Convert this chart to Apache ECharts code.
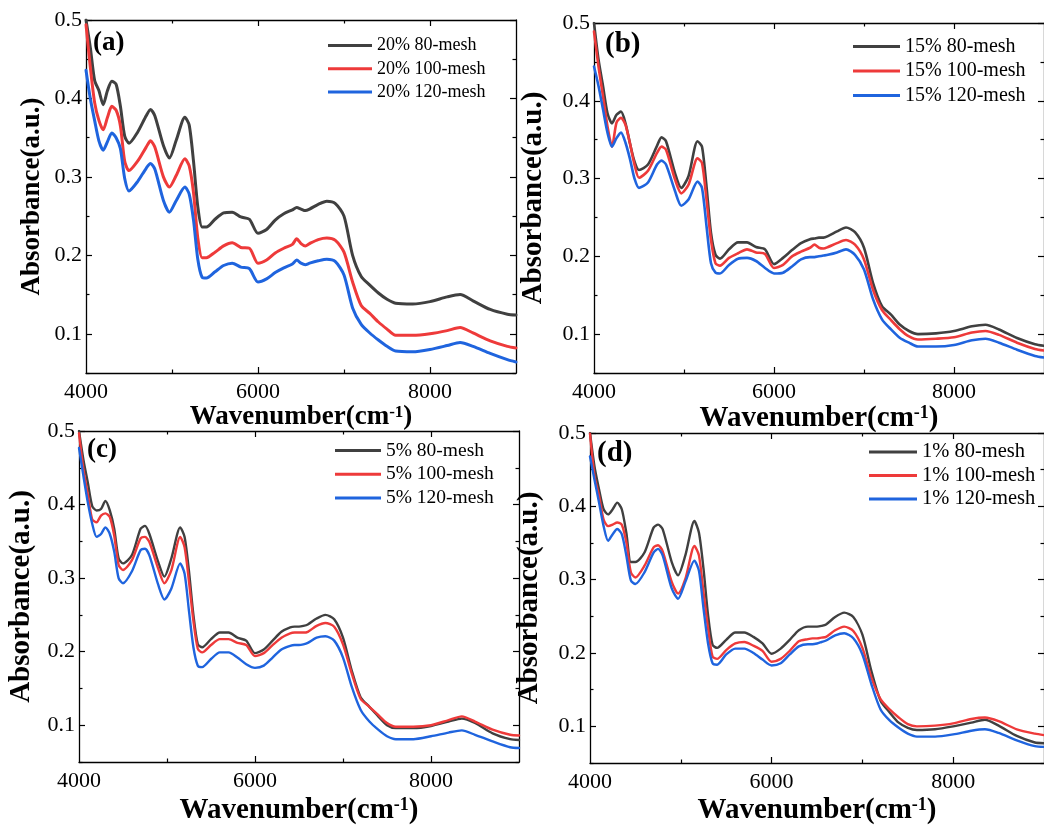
<!DOCTYPE html>
<html>
<head>
<meta charset="utf-8">
<script src="https://cdn.jsdelivr.net/npm/echarts@6/dist/echarts.min.js"></script>
<style>
html,body{margin:0;padding:0;background:#ffffff;}
#chart{width:1044px;height:826px;}
</style>
</head>
<body>
<div id="chart"></div>
<script>
// ---------------- DATA ----------------
const wavenumbers = [4000,4050,4100,4150,4200,4250,4300,4350,4400,4450,4500,4600,4700,4750,4800,4900,4970,5050,5150,5200,5250,5300,5350,5400,5500,5600,5700,5800,5900,6000,6100,6200,6300,6400,6450,6500,6550,6600,6700,6800,6900,7000,7100,7200,7300,7400,7500,7600,7800,8000,8200,8350,8500,8700,8900,9000];

// (a) 20%
const a80  = [0.500,0.465,0.423,0.410,0.392,0.410,0.422,0.418,0.390,0.352,0.343,0.357,0.378,0.386,0.378,0.340,0.324,0.347,0.376,0.366,0.320,0.262,0.236,0.236,0.246,0.254,0.255,0.249,0.246,0.228,0.233,0.245,0.253,0.258,0.261,0.259,0.257,0.259,0.265,0.269,0.266,0.250,0.200,0.173,0.162,0.152,0.144,0.139,0.138,0.141,0.147,0.150,0.142,0.131,0.125,0.124];
const a100 = [0.494,0.440,0.395,0.372,0.360,0.376,0.390,0.385,0.365,0.320,0.308,0.320,0.338,0.346,0.338,0.300,0.287,0.302,0.323,0.314,0.280,0.222,0.197,0.197,0.204,0.212,0.216,0.210,0.209,0.190,0.194,0.203,0.209,0.214,0.221,0.215,0.212,0.215,0.220,0.222,0.219,0.204,0.166,0.136,0.126,0.115,0.106,0.098,0.098,0.100,0.104,0.108,0.101,0.091,0.084,0.082];
const a120 = [0.436,0.400,0.372,0.346,0.334,0.345,0.356,0.350,0.336,0.298,0.282,0.294,0.311,0.317,0.310,0.270,0.255,0.270,0.287,0.278,0.245,0.195,0.172,0.171,0.179,0.187,0.190,0.185,0.183,0.166,0.170,0.178,0.184,0.189,0.194,0.190,0.188,0.190,0.193,0.195,0.192,0.175,0.133,0.112,0.101,0.092,0.084,0.078,0.077,0.080,0.085,0.089,0.084,0.075,0.067,0.064];

// (b) 15%
const b80  = [0.500,0.453,0.419,0.384,0.371,0.382,0.386,0.371,0.345,0.322,0.311,0.318,0.342,0.353,0.348,0.307,0.288,0.303,0.348,0.341,0.290,0.230,0.202,0.197,0.209,0.218,0.218,0.212,0.209,0.190,0.198,0.208,0.217,0.222,0.223,0.224,0.224,0.226,0.232,0.237,0.231,0.211,0.166,0.136,0.125,0.112,0.104,0.100,0.101,0.104,0.110,0.112,0.106,0.095,0.087,0.085];
const b100 = [0.489,0.444,0.406,0.367,0.341,0.372,0.378,0.369,0.345,0.318,0.301,0.310,0.333,0.341,0.337,0.299,0.281,0.292,0.326,0.320,0.273,0.221,0.191,0.188,0.198,0.204,0.209,0.205,0.203,0.185,0.189,0.200,0.206,0.211,0.215,0.211,0.210,0.212,0.217,0.221,0.215,0.196,0.157,0.131,0.118,0.106,0.097,0.093,0.094,0.096,0.102,0.104,0.099,0.089,0.081,0.079];
const b120 = [0.444,0.419,0.389,0.359,0.341,0.352,0.359,0.346,0.325,0.300,0.288,0.295,0.318,0.323,0.318,0.284,0.265,0.273,0.296,0.288,0.239,0.191,0.179,0.178,0.189,0.197,0.198,0.194,0.185,0.178,0.179,0.187,0.196,0.199,0.199,0.200,0.201,0.202,0.205,0.209,0.202,0.183,0.145,0.119,0.106,0.095,0.089,0.084,0.084,0.086,0.092,0.094,0.089,0.080,0.072,0.070];

// (c) 5%
const c80  = [0.500,0.461,0.430,0.398,0.392,0.394,0.405,0.392,0.367,0.327,0.320,0.331,0.367,0.371,0.360,0.322,0.302,0.327,0.369,0.356,0.309,0.250,0.210,0.206,0.217,0.226,0.226,0.219,0.215,0.198,0.203,0.215,0.227,0.233,0.234,0.234,0.235,0.237,0.245,0.250,0.244,0.219,0.174,0.138,0.125,0.112,0.100,0.096,0.096,0.099,0.105,0.109,0.103,0.089,0.081,0.080];
const c100 = [0.497,0.448,0.414,0.380,0.376,0.385,0.388,0.383,0.358,0.318,0.311,0.324,0.354,0.356,0.349,0.313,0.293,0.311,0.356,0.342,0.295,0.242,0.204,0.199,0.209,0.217,0.217,0.212,0.209,0.194,0.198,0.209,0.219,0.225,0.226,0.226,0.226,0.227,0.235,0.239,0.234,0.210,0.170,0.136,0.125,0.114,0.103,0.098,0.098,0.100,0.107,0.112,0.105,0.094,0.087,0.086];
const c120 = [0.477,0.439,0.403,0.374,0.356,0.360,0.369,0.360,0.336,0.300,0.293,0.309,0.338,0.340,0.331,0.291,0.271,0.286,0.320,0.306,0.255,0.206,0.181,0.179,0.190,0.199,0.199,0.192,0.183,0.178,0.181,0.192,0.203,0.208,0.209,0.209,0.210,0.212,0.219,0.221,0.215,0.192,0.152,0.121,0.105,0.094,0.085,0.081,0.081,0.085,0.090,0.093,0.087,0.078,0.070,0.069];

// (d) 1%
const d80  = [0.500,0.454,0.423,0.396,0.389,0.396,0.405,0.396,0.364,0.324,0.324,0.337,0.371,0.375,0.369,0.324,0.306,0.333,0.380,0.364,0.315,0.252,0.211,0.207,0.218,0.228,0.228,0.222,0.213,0.199,0.206,0.218,0.231,0.236,0.236,0.236,0.237,0.239,0.249,0.255,0.249,0.225,0.175,0.135,0.119,0.105,0.098,0.095,0.096,0.100,0.105,0.109,0.101,0.087,0.078,0.077];
const d100 = [0.499,0.441,0.414,0.382,0.373,0.375,0.378,0.375,0.351,0.310,0.303,0.319,0.344,0.347,0.339,0.297,0.281,0.301,0.346,0.333,0.283,0.234,0.195,0.192,0.204,0.213,0.215,0.210,0.203,0.188,0.192,0.203,0.216,0.219,0.220,0.220,0.221,0.222,0.231,0.236,0.230,0.207,0.166,0.137,0.123,0.112,0.103,0.100,0.101,0.104,0.110,0.112,0.107,0.096,0.090,0.088];
const d120 = [0.468,0.436,0.405,0.373,0.353,0.362,0.369,0.362,0.333,0.299,0.294,0.310,0.337,0.342,0.333,0.288,0.274,0.297,0.326,0.312,0.261,0.213,0.186,0.184,0.198,0.206,0.206,0.200,0.191,0.183,0.186,0.198,0.209,0.212,0.212,0.213,0.215,0.217,0.224,0.227,0.220,0.198,0.157,0.123,0.108,0.098,0.090,0.086,0.086,0.089,0.094,0.096,0.091,0.081,0.073,0.072];

// series names and panel tags
const namesA = ['20% 80-mesh','20% 100-mesh','20% 120-mesh'];
const namesB = ['15% 80-mesh','15% 100-mesh','15% 120-mesh'];
const namesC = ['5% 80-mesh','5% 100-mesh','5% 120-mesh'];
const namesD = ['1% 80-mesh','1% 100-mesh','1% 120-mesh'];
const panelTags = ['(a)','(b)','(c)','(d)'];

// axis ranges and ticks
const xRange = [4000, 9000];
const yRange = [0.05, 0.5];
const xLabelTicks = [4000, 6000, 8000];
const xMajorTicks = [6000, 8000];
const xMinorTicks = [5000, 7000];
const yLabelTicks = [0.1, 0.2, 0.3, 0.4, 0.5];
const yMinorTicks = [0.05, 0.15, 0.25, 0.35, 0.45];

const xTitle = 'Wavenumber(cm{sup|-1})';
const yTitle = 'Absorbance(a.u.)';

// ---------------- STYLE / LAYOUT ----------------
const FONT = "'Liberation Serif','Times New Roman',serif";
const lineColors = ['#404040', '#EE3A3A', '#1F64DE'];

const layout = [
  {grid:{left:86, top:20, width:430, height:353}, lw:3.0, legend:{left:328, top:35.5, w:44, fs:18, lh:20, gap:3.3, ih:3},
   tag:{left:93, top:30, fs:27}, xGap:29, yGap:40, tfs:27, sup:17, tick:22},
  {grid:{left:594, top:23, width:458, height:350}, lw:2.6, legend:{left:853, top:35.5, w:47, fs:20, lh:22, gap:2.5, ih:3},
   tag:{left:605, top:30, fs:29}, xGap:31, yGap:46, tfs:29, sup:18, tick:22},
  {grid:{left:79, top:431, width:440, height:335}, lw:2.4, legend:{left:335, top:440, w:46, fs:19.5, lh:21, gap:2.8, ih:3},
   tag:{left:87, top:437, fs:27}, xGap:34, yGap:43, tfs:29, sup:18, tick:22},
  {grid:{left:590, top:433, width:462, height:333}, lw:2.4, legend:{left:869, top:441, w:48, fs:20.5, lh:22, gap:1.5, ih:3},
   tag:{left:597, top:439, fs:29}, xGap:33, yGap:46, tfs:29, sup:18, tick:22}
];

const panelData = [
  {names:namesA, ys:[a80,a100,a120]},
  {names:namesB, ys:[b80,b100,b120]},
  {names:namesC, ys:[c80,c100,c120]},
  {names:namesD, ys:[d80,d100,d120]}
];

// ---------------- BUILD OPTION ----------------
const grids = [], xAxes = [], yAxes = [], series = [], legends = [], titles = [];
const axisLineStyle = {show:true, lineStyle:{color:'#000', width:1.3}};

layout.forEach((L, i) => {
  grids.push(Object.assign({containLabel:false}, L.grid));
  const base = {type:'value', gridIndex:i, splitLine:{show:false}, axisPointer:{show:false}};
  // X axes: bottom main, bottom minor, top main, top minor
  xAxes.push(Object.assign({}, base, {
    position:'bottom', min:xRange[0], max:xRange[1],
    axisLine:axisLineStyle,
    axisTick:{show:true, inside:true, length:6, customValues:xMajorTicks, lineStyle:{color:'#000', width:1.2}},
    axisLabel:{show:true, customValues:xLabelTicks, margin:8, color:'#000', fontFamily:FONT, fontSize:L.tick,
      formatter:(v)=>String(Math.round(v))},
    name:xTitle, nameLocation:'middle', nameGap:L.xGap,
    nameTextStyle:{fontFamily:FONT, fontWeight:'bold', fontSize:L.tfs, color:'#000',
      rich:{sup:{fontFamily:FONT, fontWeight:'bold', fontSize:L.sup, color:'#000', verticalAlign:'top'}}}
  }));
  xAxes.push(Object.assign({}, base, {
    position:'bottom', min:xRange[0], max:xRange[1], axisLine:{show:false},
    axisTick:{show:true, inside:true, length:3.5, customValues:xMinorTicks, lineStyle:{color:'#000', width:1.2}},
    axisLabel:{show:false}
  }));
  xAxes.push(Object.assign({}, base, {
    position:'top', min:xRange[0], max:xRange[1], axisLine:axisLineStyle,
    axisTick:{show:true, inside:true, length:6, customValues:xMajorTicks, lineStyle:{color:'#000', width:1.2}},
    axisLabel:{show:false}
  }));
  xAxes.push(Object.assign({}, base, {
    position:'top', min:xRange[0], max:xRange[1], axisLine:{show:false},
    axisTick:{show:true, inside:true, length:3.5, customValues:xMinorTicks, lineStyle:{color:'#000', width:1.2}},
    axisLabel:{show:false}
  }));
  // Y axes: left main, left minor, right main, right minor
  yAxes.push(Object.assign({}, base, {
    position:'left', min:yRange[0], max:yRange[1],
    axisLine:axisLineStyle,
    axisTick:{show:true, inside:true, length:6, customValues:yLabelTicks, lineStyle:{color:'#000', width:1.2}},
    axisLabel:{show:true, customValues:yLabelTicks, margin:4, color:'#000', fontFamily:FONT, fontSize:L.tick,
      formatter:(v)=>Number(v).toFixed(1)},
    name:yTitle, nameLocation:'middle', nameGap:L.yGap,
    nameTextStyle:{fontFamily:FONT, fontWeight:'bold', fontSize:L.tfs, color:'#000'}
  }));
  yAxes.push(Object.assign({}, base, {
    position:'left', min:yRange[0], max:yRange[1], axisLine:{show:false},
    axisTick:{show:true, inside:true, length:3.5, customValues:yMinorTicks, lineStyle:{color:'#000', width:1.2}},
    axisLabel:{show:false}
  }));
  yAxes.push(Object.assign({}, base, {
    position:'right', min:yRange[0], max:yRange[1], axisLine:axisLineStyle,
    axisTick:{show:true, inside:true, length:6, customValues:yLabelTicks, lineStyle:{color:'#000', width:1.2}},
    axisLabel:{show:false}
  }));
  yAxes.push(Object.assign({}, base, {
    position:'right', min:yRange[0], max:yRange[1], axisLine:{show:false},
    axisTick:{show:true, inside:true, length:3.5, customValues:yMinorTicks, lineStyle:{color:'#000', width:1.2}},
    axisLabel:{show:false}
  }));

  const P = panelData[i];
  P.names.forEach((nm, k) => {
    series.push({
      type:'line', name:nm, xAxisIndex:4*i, yAxisIndex:4*i,
      data: wavenumbers.map((w, j) => [w, P.ys[k][j]]),
      showSymbol:false, symbol:'none', smooth:0.25,
      lineStyle:{color:lineColors[k], width:L.lw, join:'round', cap:'round'}, itemStyle:{color:lineColors[k]},
      clip:true, silent:true
    });
  });

  legends.push({
    data:P.names, orient:'vertical', left:L.legend.left, top:L.legend.top, padding:0,
    icon:'rect', itemWidth:L.legend.w, itemHeight:L.legend.ih, itemGap:L.legend.gap,
    selectedMode:false,
    textStyle:{fontFamily:FONT, fontSize:L.legend.fs, lineHeight:L.legend.lh, color:'#000'}
  });

  titles.push({
    text:panelTags[i], left:L.tag.left, top:L.tag.top, padding:0,
    textStyle:{fontFamily:FONT, fontWeight:'bold', fontSize:L.tag.fs, color:'#000'}
  });
});

const chart = echarts.init(document.getElementById('chart'), null, {renderer:'canvas', width:1044, height:826});
chart.setOption({
  animation:false,
  backgroundColor:'#ffffff',
  title:titles,
  legend:legends,
  grid:grids,
  xAxis:xAxes,
  yAxis:yAxes,
  series:series
});
</script>
</body>
</html>
